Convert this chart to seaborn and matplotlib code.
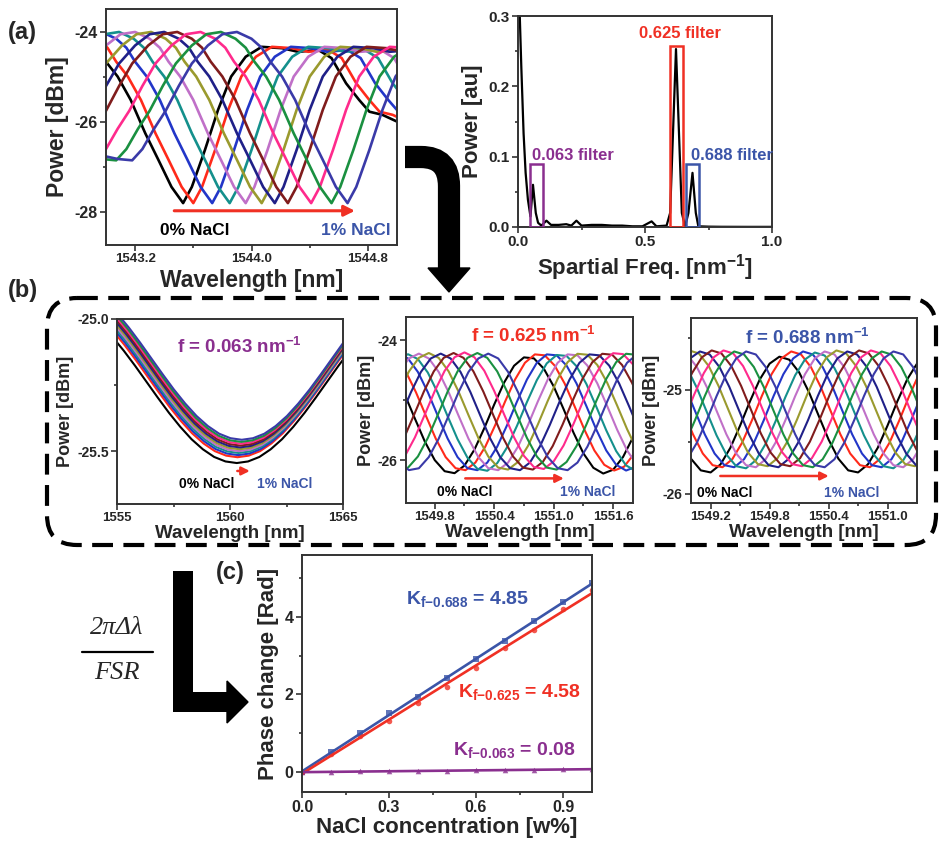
import numpy as np
import pandas as pd
import matplotlib.pyplot as plt
import matplotlib.ticker as mticker
from matplotlib.patches import Rectangle, FancyBboxPatch, Polygon, PathPatch
from matplotlib.path import Path
import seaborn as sns

# NaCl concentrations (w%) and the colour of each spectrum, 0% -> 1%
conc = [0.0, 0.1, 0.2, 0.3, 0.4, 0.5, 0.6, 0.7, 0.8, 0.9, 1.0]
curve_colors = ["#000000", "#ff2a1a", "#2236c8", "#14908c", "#c070c8", "#9a9a2e",
                "#202088", "#801c1c", "#ff2a8c", "#1a9040", "#3a3aa8"]

# (a) raw transmission, 0% curve (left part)
raw_wl = [1541.85, 1541.95, 1542.05, 1542.12, 1542.20, 1542.28, 1542.37, 1542.46, 1542.57,
          1542.67, 1542.77, 1542.87, 1542.94, 1543.00, 1543.08, 1543.17, 1543.27, 1543.36,
          1543.45, 1543.53, 1543.59, 1543.68, 1543.77, 1543.86, 1543.96, 1544.07, 1544.21,
          1544.32, 1544.46, 1544.55, 1544.65, 1544.74, 1544.81, 1544.90, 1545.00]
raw_pw = [-26.75, -26.82, -26.85, -26.6, -26.15, -25.75, -25.2, -24.7, -24.3,
          -24.05, -24.0, -24.15, -24.35, -24.66, -24.99, -25.51, -26.25, -26.84,
          -27.44, -27.8, -27.44, -26.62, -25.73, -24.99, -24.55, -24.33, -24.36,
          -24.44, -24.40, -24.58, -25.14, -25.51, -25.77, -25.84, -25.99]
raw_shift = [0, 0.07, 0.2, 0.32, 0.43, 0.54, 0.63, 0.72, 0.88, 1.02, 1.13]

# (a) spatial frequency spectrum
fft_freq = [0.0, 0.007, 0.013, 0.022, 0.030, 0.039, 0.049, 0.059, 0.070, 0.079, 0.092, 0.112,
            0.13, 0.16, 0.19, 0.21, 0.23, 0.25, 0.29, 0.33, 0.37, 0.41, 0.45, 0.49, 0.526,
            0.545, 0.585, 0.599, 0.622, 0.645, 0.658, 0.671, 0.687, 0.70, 0.71, 0.75, 0.8,
            0.9, 1.0]
fft_pow = [0.45, 0.30, 0.228, 0.133, 0.077, 0.039, 0.015, 0.060, 0.020, 0.006, 0.002, 0.009,
           0.003, 0.003, 0.004, 0.002, 0.009, 0.002, 0.003, 0.003, 0.002, 0.002, 0.001, 0.001,
           0.008, 0.001, 0.002, 0.020, 0.253, 0.020, 0.001, 0.020, 0.077, 0.020, 0.001, 0.0005,
           0.0003, 0.0002, 0.0002]
filter_names = ["0.063 filter", "0.625 filter", "0.688 filter"]
filter_lo = [0.046, 0.599, 0.662]
filter_hi = [0.099, 0.651, 0.713]
filter_top = [0.089, 0.258, 0.089]
filter_colors = ["#8a2f8f", "#f03024", "#3b55a8"]

# (b) filtered spectra, 0% curve of each filter
f063_wl = np.linspace(1554.8, 1565.8, 23)
f063_pw = [-25.068, -25.120, -25.177, -25.237, -25.297, -25.355, -25.408, -25.455, -25.493,
           -25.522, -25.539, -25.545, -25.539, -25.522, -25.493, -25.455, -25.408, -25.355,
           -25.297, -25.237, -25.177, -25.120, -25.068]
f063_shift = [0, 0.03, 0.06, 0.08, 0.1, 0.12, 0.14, 0.16, 0.18, 0.2, 0.22]
f063_offset = [0, 0.022, 0.03, 0.038, 0.045, 0.052, 0.059, 0.066, 0.073, 0.08, 0.088]

f625_wl = np.linspace(1548.3, 1551.9, 37)
f625_pw = [-26.085, -26.212, -26.181, -25.995, -25.687, -25.305, -24.914, -24.577, -24.351,
           -24.270, -24.351, -24.576, -24.913, -25.304, -25.686, -25.995, -26.180, -26.213,
           -26.086, -25.821, -25.462, -25.068, -24.702, -24.423, -24.283, -24.299, -24.470,
           -24.767, -25.146, -25.538, -25.884, -26.123, -26.219, -26.155, -25.942, -25.615,
           -25.226]
f625_shift = [0, 0.11, 0.23, 0.33, 0.44, 0.54, 0.66, 0.79, 0.90, 1.03, 1.14]
f625_offset = [0, 0.05, 0.05, 0.04, 0.05, 0.06, 0.05, 0.06, 0.07, 0.06, 0.05]

f688_wl = np.linspace(1547.8, 1551.4, 37)
f688_pw = [-25.719, -25.560, -25.345, -25.112, -24.901, -24.749, -24.682, -24.711, -24.832,
           -25.023, -25.252, -25.479, -25.664, -25.776, -25.796,
           -25.719, -25.560, -25.345, -25.112, -24.901, -24.749, -24.682, -24.711, -24.832,
           -25.023, -25.252, -25.479, -25.664, -25.776, -25.796,
           -25.719, -25.560, -25.345, -25.112, -24.901, -24.749, -24.682]
f688_shift = [0, 0.12, 0.24, 0.36, 0.46, 0.58, 0.69, 0.81, 0.93, 1.04, 1.16]
f688_offset = [0, 0.05, 0.05, 0.04, 0.05, 0.06, 0.05, 0.06, 0.06, 0.05, 0.05]

# (c) phase change vs concentration
phase_688 = [0, 0.51, 1.0, 1.52, 1.93, 2.42, 2.91, 3.38, 3.89, 4.37, 4.87]
phase_625 = [0, 0.47, 0.93, 1.33, 1.78, 2.2, 2.68, 3.2, 3.65, 4.2, 4.68]
phase_063 = [0, 0.01, 0.02, 0.02, 0.03, 0.04, 0.05, 0.05, 0.06, 0.07, 0.08]
k_labels = ["$\\mathbf{K_{f{-}0.688}}$ = 4.85", "$\\mathbf{K_{f{-}0.625}}$ = 4.58",
            "$\\mathbf{K_{f{-}0.063}}$ = 0.08"]

PURPLE, RED, BLUE = filter_colors

sns.set_style("ticks")
plt.rcParams["font.family"] = ["Liberation Sans", "DejaVu Sans"]
plt.rcParams["font.weight"] = "bold"
plt.rcParams["axes.labelweight"] = "bold"
plt.rcParams["axes.unicode_minus"] = False
plt.rcParams["mathtext.fontset"] = "custom"
plt.rcParams["mathtext.rm"] = "Liberation Sans:bold"
plt.rcParams["mathtext.bf"] = "Liberation Sans:bold"
plt.rcParams["mathtext.it"] = "Liberation Sans:italic:bold"

W, H = 941, 843
fig = plt.figure(figsize=(W / 100, H / 100), dpi=100)


def px_axes(x0, y0, x1, y1):
    return fig.add_axes([x0 / W, 1 - y1 / H, (x1 - x0) / W, (y1 - y0) / H])


def style(ax, xmaj, xmin, ymaj, ymin, xfs, yfs):
    ax.set_xticks(xmaj)
    ax.set_xticks(xmin, minor=True)
    ax.set_yticks(ymaj)
    ax.set_yticks(ymin, minor=True)
    for s in ax.spines.values():
        s.set_linewidth(1.4)
        s.set_color("#333333")
    ax.tick_params(which="both", direction="out", width=1.2, color="#333333")
    ax.tick_params(which="major", length=4)
    ax.tick_params(which="minor", length=2.5)
    ax.tick_params(axis="x", labelsize=xfs, pad=2)
    ax.tick_params(axis="y", labelsize=yfs, pad=2)


def spectra_frame(wl, pw, shifts, offsets):
    rows = []
    for c, s, o in zip(conc, shifts, offsets):
        for x, y in zip(wl, pw):
            rows.append((f"{c:.1f}%", x + s, y + o))
    return pd.DataFrame(rows, columns=["conc", "wl", "power"])


palette = {f"{c:.1f}%": col for c, col in zip(conc, curve_colors)}

# ---- (a) raw spectra
ax = px_axes(106, 9, 397, 245)
df = spectra_frame(raw_wl, raw_pw, raw_shift, [0] * len(conc))
sns.lineplot(data=df, x="wl", y="power", hue="conc", palette=palette, legend=False,
             estimator=None, lw=1.9, ax=ax)
ax.set_xlim(1543.0, 1545.0)
ax.set_ylim(-28.73, -23.49)
style(ax, [1543.2, 1544.0, 1544.8], [1543.6, 1544.4], [-28, -26, -24], [-27, -25], 9.5, 11.5)
ax.xaxis.set_major_formatter(mticker.FormatStrFormatter("%.1f"))
ax.set_xlabel("Wavelength [nm]", fontsize=16.5, labelpad=3)
ax.set_ylabel("Power [dBm]", fontsize=16.5, labelpad=4)
ax.annotate("", xy=(1544.73, -27.97), xytext=(1543.45, -27.97),
            arrowprops=dict(arrowstyle="-|>", color=RED, lw=2.2, mutation_scale=16))
ax.text(1543.61, -28.4, "0% NaCl", ha="center", va="center", fontsize=12.5, color="black")
ax.text(1544.72, -28.4, "1% NaCl", ha="center", va="center", fontsize=12.5, color=BLUE)

# ---- (a) FFT
ax = px_axes(518, 16, 772, 227)
sns.lineplot(x=fft_freq, y=fft_pow, color="black", lw=1.6, estimator=None, ax=ax)
for name, lo, hi, top, col in zip(filter_names, filter_lo, filter_hi, filter_top, filter_colors):
    ax.add_patch(Rectangle((lo, 0), hi - lo, top, fill=False, ec=col, lw=1.8, zorder=3))
ax.text(0.057, 0.101, filter_names[0], color=PURPLE, fontsize=12, ha="left", va="center")
ax.text(0.636, 0.275, filter_names[1], color=RED, fontsize=12, ha="center", va="center")
ax.text(0.682, 0.101, filter_names[2], color=BLUE, fontsize=12, ha="left", va="center",
        clip_on=False)
ax.set_xlim(0, 1.0)
ax.set_ylim(0, 0.3)
style(ax, [0, 0.5, 1.0], [0.25, 0.75], [0, 0.1, 0.2, 0.3], [0.05, 0.15, 0.25], 11, 11)
ax.xaxis.set_major_formatter(mticker.FormatStrFormatter("%.1f"))
ax.yaxis.set_major_formatter(mticker.FormatStrFormatter("%.1f"))
ax.set_xlabel("Spartial Freq. [nm$^{\\mathbf{-1}}$]", fontsize=16, labelpad=2)
ax.set_ylabel("Power [au]", fontsize=16, labelpad=4)

# ---- (b) filtered spectra
panels = [
    (117, 319, 343, 504, f063_wl, f063_pw, f063_shift, f063_offset, (1555, 1565), (-25.70, -25.0),
     [1555, 1560, 1565], [1557.5, 1562.5], [-25.5, -25.0], [-25.25], "%.0f", "%.1f",
     "f = 0.063 nm$^{\\mathbf{-1}}$", PURPLE, (1560.4, -25.105),
     (1560.2, 1561.0, -25.575), (1558.98, -25.625), (1562.43, -25.625)),
    (406, 317, 633, 503, f625_wl, f625_pw, f625_shift, f625_offset, (1549.51, 1551.8),
     (-26.71, -23.61), [1549.8, 1550.4, 1551.0, 1551.6], [1550.1, 1550.7, 1551.3],
     [-26, -24], [-25], "%.1f", "%.0f",
     "f = 0.625 nm$^{\\mathbf{-1}}$", RED, (1550.79, -23.92),
     (1550.08, 1551.13, -26.3), (1550.1, -26.52), (1551.34, -26.53)),
    (691, 318, 917, 503, f688_wl, f688_pw, f688_shift, f688_offset, (1549.0, 1551.3),
     (-26.09, -24.31), [1549.2, 1549.8, 1550.4, 1551.0], [1549.5, 1550.1, 1550.7],
     [-26, -25], [-25.5, -24.5], "%.1f", "%.0f",
     "f = 0.688 nm$^{\\mathbf{-1}}$", BLUE, (1550.18, -24.5),
     (1549.27, 1550.43, -25.83), (1549.34, -25.99), (1550.64, -25.99)),
]
for (x0, y0, x1, y1, wl, pw, sh, off, xl, yl, xmaj, xmin, ymaj, ymin, xfmt, yfmt,
     title, tcol, tpos, arr, p0, p1) in panels:
    ax = px_axes(x0, y0, x1, y1)
    df = spectra_frame(wl, pw, sh, off)
    sns.lineplot(data=df, x="wl", y="power", hue="conc", palette=palette, legend=False,
                 estimator=None, lw=1.5, ax=ax)
    ax.set_xlim(*xl)
    ax.set_ylim(*yl)
    style(ax, xmaj, xmin, ymaj, ymin, 9.5, 10)
    ax.xaxis.set_major_formatter(mticker.FormatStrFormatter(xfmt))
    ax.yaxis.set_major_formatter(mticker.FormatStrFormatter(yfmt))
    ax.set_xlabel("Wavelength [nm]", fontsize=13.5, labelpad=0.5)
    ax.set_ylabel("Power [dBm]", fontsize=13, labelpad=2)
    ax.text(*tpos, title, color=tcol, fontsize=13.5, ha="center", va="center")
    ax.annotate("", xy=(arr[1], arr[2]), xytext=(arr[0], arr[2]),
                arrowprops=dict(arrowstyle="-|>", color=RED, lw=1.8, mutation_scale=12))
    ax.text(*p0, "0% NaCl", ha="center", va="center", fontsize=10, color="black")
    ax.text(*p1, "1% NaCl", ha="center", va="center", fontsize=10, color=BLUE)

# ---- (c) phase change
ax = px_axes(302, 555, 592, 792)
for ph, col, mk in [(phase_688, BLUE, "s"), (phase_625, RED, "o"), (phase_063, PURPLE, "^")]:
    sns.regplot(x=conc, y=ph, ci=None, color=col, marker=mk, truncate=True,
                scatter_kws=dict(s=16, linewidths=0), line_kws=dict(lw=1.9), ax=ax)
ax.text(0.36, 4.47, k_labels[0], color=BLUE, fontsize=14, ha="left", va="center")
ax.text(0.537, 2.07, k_labels[1], color=RED, fontsize=14, ha="left", va="center")
ax.text(0.52, 0.57, k_labels[2], color=PURPLE, fontsize=14, ha="left", va="center")
ax.set_xlim(0, 1.0)
ax.set_ylim(-0.51, 5.59)
style(ax, [0, 0.3, 0.6, 0.9], [0.15, 0.45, 0.75], [0, 2, 4], [1, 3, 5], 11.5, 11.5)
ax.xaxis.set_major_formatter(mticker.FormatStrFormatter("%.1f"))
ax.set_xlabel("NaCl concentration [w%]", fontsize=16, labelpad=1)
ax.set_ylabel("Phase change [Rad]", fontsize=16, labelpad=4)

# ---- overlay: panel letters, arrows, dashed box, formula
ov = fig.add_axes([0, 0, 1, 1], zorder=5)
ov.set_xlim(0, W)
ov.set_ylim(H, 0)
ov.axis("off")
ov.text(8, 33, "(a)", fontsize=17, ha="left", va="center")
ov.text(8, 291, "(b)", fontsize=17, ha="left", va="center")
ov.text(216, 572, "(c)", fontsize=17, ha="left", va="center")

bend = Path([(405, 157), (421, 157), (449, 157), (449, 186), (449, 270)],
            [Path.MOVETO, Path.LINETO, Path.CURVE3, Path.CURVE3, Path.LINETO])
ov.add_patch(PathPatch(bend, fill=False, ec="black", lw=16, capstyle="butt"))
ov.add_patch(Polygon([(428, 268), (470, 268), (449, 292)], closed=True, fc="black", ec="black"))

ell = Path([(183, 571), (183, 702), (228, 702)], [Path.MOVETO, Path.LINETO, Path.LINETO])
ov.add_patch(PathPatch(ell, fill=False, ec="black", lw=14.4, capstyle="butt", joinstyle="miter"))
ov.add_patch(Polygon([(227, 681), (227, 723), (248, 702)], closed=True, fc="black", ec="black"))

ov.add_patch(FancyBboxPatch((47, 298), 889, 247, boxstyle="round,pad=0,rounding_size=30",
                            fill=False, ec="black", lw=3, ls=(0, (5, 2.5))))

ov.text(117, 628, "2πΔλ", fontsize=19, ha="center", va="center", family="Liberation Serif",
        style="italic", weight="normal")
ov.plot([82, 153], [652, 652], color="black", lw=1.6)
ov.text(117, 673, "FSR", fontsize=19, ha="center", va="center", family="Liberation Serif",
        style="italic", weight="normal")

fig.savefig("out.png", dpi=100)
